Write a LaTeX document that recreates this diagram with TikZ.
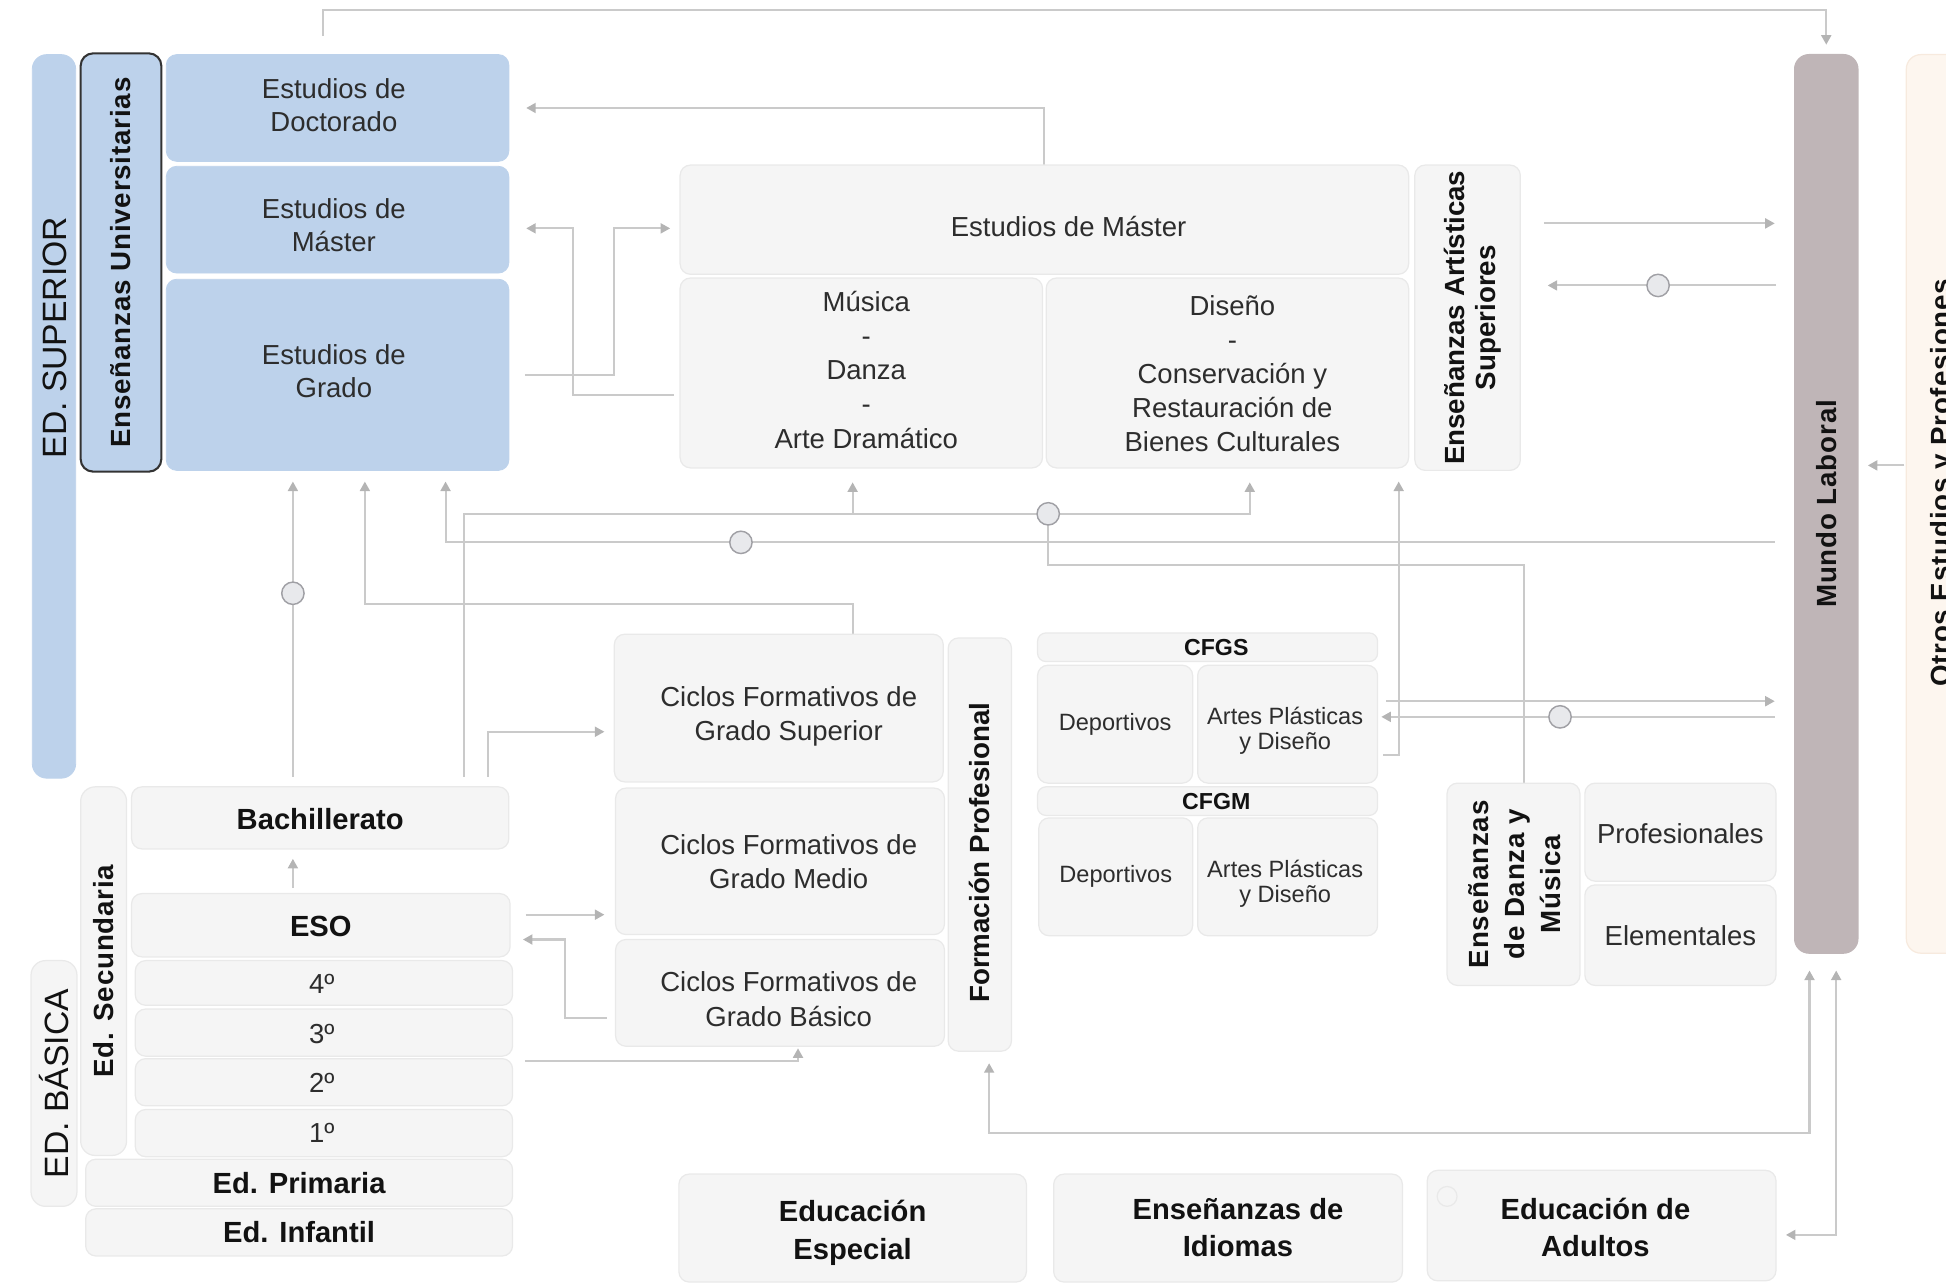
\documentclass[tikz,border=0pt]{standalone}
\usepackage{fontspec}
\setmainfont{Liberation Sans}
\newfontfamily\trk{Liberation Sans}[LetterSpace=3]
\usetikzlibrary{arrows.meta}
\pgfdeclarelayer{bg}
\pgfsetlayers{bg,main}
\definecolor{blu}{RGB}{189,210,235}
\definecolor{gbox}{RGB}{245,245,245}
\definecolor{gbord}{RGB}{233,233,233}
\definecolor{mund}{RGB}{191,181,183}
\definecolor{otr}{RGB}{253,246,239}
\definecolor{otrb}{RGB}{247,234,222}
\definecolor{lncol}{RGB}{202,202,202}
\definecolor{tipcol}{RGB}{180,180,180}
\definecolor{jf}{RGB}{232,233,236}
\definecolor{jd}{RGB}{160,160,165}
\definecolor{txt}{RGB}{45,45,45}
\definecolor{btxt}{RGB}{18,18,18}
\tikzset{
  base/.style={rectangle, rounded corners=5pt, inner sep=1pt, outer sep=0pt, align=center},
  bluebox/.style={base, fill=blu, draw=blu, text=txt, font=\fontsize{13.3}{16}\selectfont},
  graybox/.style={base, fill=gbox, draw=gbord, line width=0.6pt, text=txt, font=\fontsize{13.3}{16.5}\selectfont},
  boldbox/.style={graybox, text=btxt, font=\bfseries\fontsize{14.1}{18}\selectfont},
  vlab/.style={graybox, text=btxt, font=\trk\bfseries\fontsize{13.4}{15}\selectfont},
  vlabn/.style={graybox, text=btxt, font=\bfseries\fontsize{13.4}{15}\selectfont},
  smallbox/.style={graybox, font=\fontsize{11.4}{12.2}\selectfont},
  hdrbox/.style={graybox, rounded corners=4pt, text=btxt, font=\bfseries\fontsize{11.2}{12}\selectfont},
  conn/.style={draw=lncol, line width=1pt},
  arr/.style={conn, -{Triangle[length=4.6pt,width=4.8pt,color=tipcol]}},
  darr/.style={conn, {Triangle[length=4.6pt,width=4.8pt,color=tipcol]}-{Triangle[length=4.6pt,width=4.8pt,color=tipcol]}},
  junc/.style={circle, draw=jd, fill=jf, line width=0.7pt, minimum size=10.8pt, inner sep=0pt},
  biglab/.style={text=btxt, font=\fontsize{16.3}{18}\selectfont, inner sep=0pt}
}
\newcommand\bx[7]{%
  \node[#6, minimum width={0.6pt*(#4-#2)}, minimum height={0.6pt*(#5-#3)}] (#1) at ({(#2+#4)/2},{(#3+#5)/2}) {#7};}
% shifted text: #1 extra left space (twice the shift), #2 raise, #3 lines
\newcommand\sh[3]{\raisebox{#2}[\height][\depth]{\hspace*{#1}\begin{tabular}{@{}c@{}}#3\end{tabular}}}
\begin{document}
\begin{tikzpicture}[x=0.6pt,y=-0.6pt]
\useasboundingbox (0,0) rectangle (1568,1034);
\begin{scope}
\clip (0,0) rectangle (1568,1034);
% --- superior ---
\bx{sup}{26}{44}{61}{627}{bluebox, rounded corners=7pt}{}
\node[biglab, rotate=90] (suptxt) at (44,272) {ED. SUPERIOR};
\bx{univ}{65}{43}{130}{380}{bluebox, draw=black!80, line width=1pt, rounded corners=6pt, text=btxt, font=\trk\bfseries\fontsize{13.4}{15}\selectfont}{\rotatebox{90}{Enseñanzas Universitarias}}
\bx{doc}{134}{44}{410}{130}{bluebox}{\sh{-3.6pt}{0pt}{Estudios de\\Doctorado}}
\bx{mas}{134}{134}{410}{220}{bluebox}{\sh{-3.6pt}{-4.2pt}{Estudios de\\Máster}}
\bx{gra}{134}{225}{410}{379}{bluebox}{\sh{-3.6pt}{0pt}{Estudios de\\Grado}}
\bx{amas}{548}{133}{1135}{221}{graybox}{\sh{23.4pt}{-4.8pt}{Estudios de Máster}}
\bx{mus}{548}{224}{840}{377}{graybox}{\sh{4.8pt}{0pt}{Música\\-\\Danza\\-\\Arte Dramático}}
\bx{dis}{843}{224}{1135}{377}{graybox}{\sh{4.8pt}{-1.8pt}{Diseño\\-\\Conservación y\\Restauración de\\Bienes Culturales}}
\bx{eas}{1140}{133}{1225}{379}{vlabn}{\rotatebox{90}{\raisebox{-3pt}[\height][\depth]{\begin{tabular}{@{}c@{}}Enseñanzas Artísticas\\Superiores\end{tabular}}}}
\bx{mundo}{1446}{44}{1497}{768}{vlab, fill=mund, draw=mund, rounded corners=7pt}{\rotatebox{90}{Mundo Laboral}}
\bx{otros}{1536}{44}{1620}{768}{base, fill=otr, draw=otrb, line width=0.6pt, rounded corners=7pt}{}
\node[rotate=90, inner sep=0pt, text=btxt, font=\trk\bfseries\fontsize{13.4}{15}\selectfont] (otrostxt) at (1566,389) {Otros Estudios y Profesiones};
% --- basica ---
\bx{bas}{25}{774}{62}{972}{graybox, rounded corners=7pt, text=btxt}{\rotatebox{90}{\fontsize{16.3}{18}\selectfont ED. BÁSICA}}
\bx{sec}{65}{634}{102}{931}{vlab, rounded corners=7pt}{\rotatebox{90}{Ed. Secundaria}}
\bx{bach}{106}{634}{410}{684}{boldbox}{\sh{0pt}{-1.8pt}{Bachillerato}}
\bx{eso}{106}{720}{411}{771}{boldbox}{\sh{0pt}{-1.8pt}{ESO}}
\bx{y4}{109}{774}{413}{810}{graybox}{\sh{-2pt}{-1.8pt}{4º}}
\bx{y3}{109}{813}{413}{851}{graybox}{\sh{-2pt}{-1.8pt}{3º}}
\bx{y2}{109}{853}{413}{891}{graybox}{\sh{-2pt}{-1.8pt}{2º}}
\bx{y1}{109}{894}{413}{932}{graybox}{\sh{-2pt}{-1.2pt}{1º}}
\bx{prim}{69}{934}{413}{972}{boldbox}{Ed. Primaria}
\bx{inf}{69}{974}{413}{1012}{boldbox}{Ed. Infantil}
% --- FP ---
\bx{cfgs}{495}{511}{760}{630}{graybox}{\sh{9.6pt}{-4.2pt}{Ciclos Formativos de\\Grado Superior}}
\bx{cfgm}{496}{635}{761}{753}{graybox}{\sh{8.4pt}{-1.8pt}{Ciclos Formativos de\\Grado Medio}}
\bx{cfgb}{496}{757}{761}{843}{graybox}{\sh{8.4pt}{-4.5pt}{Ciclos Formativos de\\Grado Básico}}
\bx{fp}{764}{514}{815}{847}{vlabn}{\rotatebox{90}{\hspace*{-7.8pt}Formación Profesional}}
\bx{hs}{836}{510}{1110}{533}{hdrbox}{\hspace*{8.4pt}CFGS}
\bx{dep1}{836}{536}{961}{631}{smallbox}{Deportivos}
\bx{art1}{965}{536}{1110}{631}{smallbox}{\sh{-2.4pt}{-3.9pt}{Artes Plásticas\\y Diseño}}
\bx{hm}{836}{634}{1110}{657}{hdrbox}{\hspace*{8.4pt}CFGM}
\bx{dep2}{837}{659}{961}{754}{smallbox}{Deportivos}
\bx{art2}{965}{659}{1110}{754}{smallbox}{\sh{-2.4pt}{-3.9pt}{Artes Plásticas\\y Diseño}}
\bx{edm}{1166}{631}{1273}{794}{vlab, font=\trk\bfseries\fontsize{13.4}{17.4}\selectfont}{\rotatebox{90}{\raisebox{-1.8pt}[\height][\depth]{\begin{tabular}{@{}c@{}}Enseñanzas\\de Danza y\\Música\end{tabular}}}}
\bx{prof}{1277}{631}{1431}{710}{graybox}{\sh{0pt}{-2.1pt}{Profesionales}}
\bx{elem}{1277}{713}{1431}{794}{graybox}{\sh{0pt}{-1.8pt}{Elementales}}
% --- bottom ---
\bx{esp}{547}{946}{827}{1033}{boldbox}{\sh{0pt}{-2.4pt}{Educación\\Especial}}
\bx{idi}{849}{946}{1130}{1033}{boldbox}{\sh{9.6pt}{-1.2pt}{Enseñanzas de\\Idiomas}}
\bx{adu}{1150}{943}{1431}{1032}{boldbox}{\sh{-6pt}{-2.4pt}{Educación de\\Adultos}}
\draw[gbord, line width=0.6pt] (1166,964) circle [radius=4.8pt];
% --- junctions ---
\node[junc] (j1) at (1336,230) {};
\node[junc] (j2) at (236,478) {};
\node[junc] (j3) at (597,437) {};
\node[junc] (j4) at (844.6,414) {};
\node[junc] (j5) at (1257,577.6) {};
\coordinate (topstart) at (260,29);
% --- connectors ---
\begin{pgfonlayer}{bg}
\draw[arr, shorten >=4.8pt] (topstart) -- ++(0,-21) -| (mundo.north);
\draw[arr, shorten >=8.4pt] (amas.north) |- (doc.east);
\draw[arr, shorten <=3pt, shorten >=8.4pt] (mus.west |- 0,318) -| (461.5,184) -- (mas.east |- 0,184);
\draw[arr, shorten <=7.8pt, shorten >=4.8pt] (gra.east) -| (494.5,184) -- (amas.west |- 0,184);
\draw[arr, shorten <=11.4pt, shorten >=9.6pt] (eas.east |- 0,180) -- (mundo.west |- 0,180);
\draw[arr, shorten <=9pt, shorten >=13.2pt] (mundo.west |- j1) -- (eas.east |- j1);
\draw[arr, shorten <=1pt, shorten >=4.8pt] (otros.west |- 0,375) -- (mundo.east |- 0,375);
\draw[arr, shorten <=4.8pt, shorten >=5.4pt] (bach.north -| j2) -- (gra.south -| j2);
\draw[arr, shorten >=5.4pt] (cfgs.north -| 687,0) |- (294,487) -- (gra.south -| 294,0);
\draw[arr, shorten <=9.6pt, shorten >=5.4pt] (mundo.west |- j3) -- (j3 -| 359,0) -- (gra.south -| 359,0);
\draw[arr, shorten <=4.8pt, shorten >=7pt] (bach.north -| 374,0) -- (j4 -| 374,0) -- (j4 -| 1007,0) -- (dis.south -| 1007,0);
\draw[arr, shorten >=7pt] (j4 -| 687,0) -- (mus.south -| 687,0);
\draw[conn] (j4.center) |- (1228,455) -- (edm.north -| 1228,0);
\draw[arr, shorten <=2.7pt, shorten >=6.6pt] (art1.east |- 0,608.5) -| (dis.south -| 1127,0);
\draw[arr, shorten <=4.2pt, shorten >=9.6pt] (art1.east |- 0,565) -- (mundo.west |- 0,565);
\draw[arr, shorten <=9.6pt, shorten >=1.8pt] (mundo.west |- j5) -- (art1.east |- j5);
\draw[arr, shorten <=7.5pt, shorten >=5.4pt] (eso.east |- 0,737) -- (cfgm.west |- 0,737);
\draw[arr, shorten <=4.2pt, shorten >=6.2pt] (cfgb.west |- 0,820.5) -| (455,757) -- (eso.east |- 0,757);
\draw[arr, shorten <=6pt, shorten >=1pt] (y2.east |- 0,855) -| (cfgb.south -| 643,0);
\draw[arr, shorten <=4.8pt, shorten >=4.8pt] (bach.north -| 393,0) |- (cfgs.west |- 0,589.6);
\draw[arr, shorten <=2.6pt, shorten >=4.8pt] (eso.north -| j2) -- (bach.south -| j2);
\draw[darr, shorten <=8.4pt, shorten >=5.8pt] (mundo.south -| 1458,0) |- (797,913) -- (fp.south -| 797,0);
\draw[darr, shorten <=8.4pt, shorten >=4.8pt] (mundo.south -| 1479.5,0) |- (adu.east |- 0,995);
\end{pgfonlayer}
\end{scope}
\end{tikzpicture}
\end{document}
